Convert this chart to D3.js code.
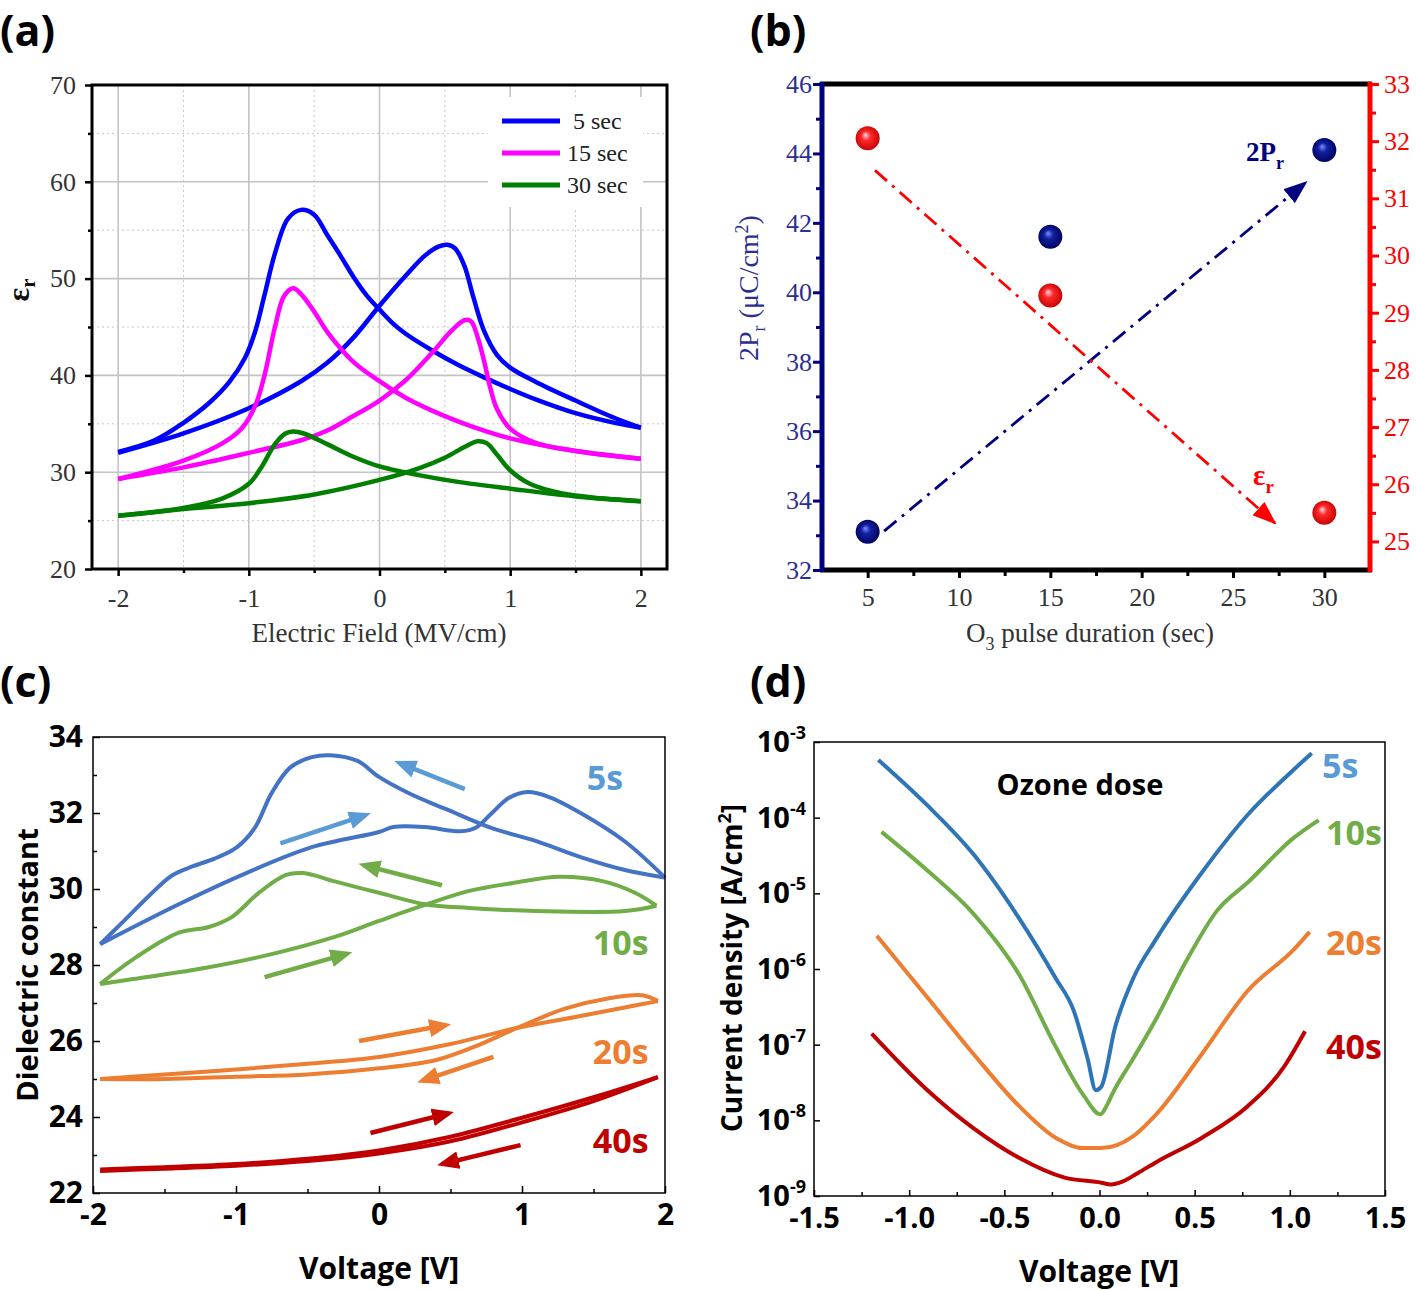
<!DOCTYPE html>
<html><head><meta charset="utf-8">
<script src="https://cdn.jsdelivr.net/npm/d3@7/dist/d3.min.js"></script>
<style>body{margin:0;background:#fff} svg{display:block}</style>
</head><body>
<svg id="fig" width="1416" height="1290" xmlns="http://www.w3.org/2000/svg"></svg>
<script>
// ================= DATA =================
// ---- Panel (a): eps_r vs Electric Field ----
const aXTicks = [-2, -1, 0, 1, 2];
const aXMinor = [-1.5, -0.5, 0.5, 1.5];
const aYTicks = [20, 30, 40, 50, 60, 70];
const aYMinor = [25, 35, 45, 55, 65];
const aLegend = ["5 sec", "15 sec", "30 sec"];
const a5s_b1 = [[-2,32.1],[-1.72,33.3],[-1.5,35.1],[-1.3,37.2],[-1.15,39.3],[-1.03,41.8],[-0.95,44.6],[-0.88,48.3],[-0.8,52.6],[-0.7,56.2],[-0.6,57.1],[-0.5,56.6],[-0.4,54.5],[-0.3,52.4],[-0.2,50.2],[-0.1,48.3],[0,46.8],[0.1,45.4],[0.2,44.3],[0.4,42.6],[0.6,41.1],[0.8,39.8],[1.0,38.6],[1.2,37.5],[1.5,36.1],[1.8,35.1],[2.0,34.6]];
const a5s_b2 = [[-2,32.0],[-1.5,34.0],[-1.0,36.6],[-0.6,39.4],[-0.4,41.3],[-0.2,43.9],[0,47.2],[0.2,50.3],[0.35,52.4],[0.45,53.3],[0.52,53.5],[0.58,53.1],[0.65,51.3],[0.72,48.0],[0.8,44.6],[0.9,42.1],[1.0,40.8],[1.2,39.3],[1.5,37.4],[1.8,35.6],[2.0,34.6]];
const a15s_b1 = [[-2,29.3],[-1.5,31.2],[-1.2,33.0],[-1.05,34.6],[-0.95,36.9],[-0.88,40.0],[-0.8,45.0],[-0.73,48.2],[-0.66,49.0],[-0.6,48.4],[-0.5,46.6],[-0.4,44.5],[-0.2,41.4],[0,39.4],[0.2,37.7],[0.5,35.8],[0.8,34.3],[1.0,33.5],[1.5,32.2],[2.0,31.4]];
const a15s_b2 = [[-2,29.3],[-1.5,30.5],[-1.0,32.0],[-0.6,33.3],[-0.4,34.3],[-0.2,35.8],[0,37.4],[0.2,39.5],[0.4,42.3],[0.55,44.6],[0.65,45.7],[0.7,45.6],[0.75,44.0],[0.8,41.5],[0.85,38.6],[0.9,36.5],[1.0,34.5],[1.2,33.0],[1.5,32.2],[2.0,31.4]];
const a30s_b1 = [[-2,25.5],[-1.5,26.3],[-1.2,27.3],[-1.0,28.8],[-0.9,30.6],[-0.8,32.9],[-0.72,34.0],[-0.66,34.2],[-0.58,34.0],[-0.4,32.9],[-0.2,31.6],[0,30.6],[0.3,29.7],[0.6,29.0],[1.0,28.3],[1.5,27.5],[2.0,27.0]];
const a30s_b2 = [[-2,25.5],[-1.5,26.2],[-1.0,26.8],[-0.5,27.7],[0,29.2],[0.3,30.4],[0.5,31.5],[0.65,32.6],[0.75,33.2],[0.82,33.0],[0.9,31.8],[1.0,30.2],[1.15,28.8],[1.4,27.8],[1.7,27.3],[2.0,27.0]];

// ---- Panel (b): 2Pr and eps_r vs O3 pulse ----
const bXTicks = [5, 10, 15, 20, 25, 30];
const bXMinor = [7.5, 12.5, 17.5, 22.5, 27.5];
const bLTicks = [32, 34, 36, 38, 40, 42, 44, 46];
const bLMinor = [33, 35, 37, 39, 41, 43, 45];
const bRTicks = [25, 26, 27, 28, 29, 30, 31, 32, 33];
const bRMinor = [25.5, 26.5, 27.5, 28.5, 29.5, 30.5, 31.5, 32.5];
const bPulse = [5, 15, 30];
const b2Pr = [33.1, 41.6, 44.1];
const bEps = [32.05, 29.3, 25.5];
const b2PrTrend = [[5.9, 33.12], [29.0, 43.17]];
const bEpsTrend = [[5.4, 31.49], [27.3, 25.32]];

// ---- Panel (c): dielectric constant loops ----
const cXTicks = [-2, -1, 0, 1, 2];
const cXMinor = [-1.5, -0.5, 0.5, 1.5];
const cYTicks = [22, 24, 26, 28, 30, 32, 34];
const cYMinor = [23, 25, 27, 29, 31, 33];
const cLabels = ["5s", "10s", "20s", "40s"];
const c5s_fwd = [[-1.95,28.55],[-1.4,29.6],[-0.94,30.4],[-0.47,31.1],[0,31.5],[0.1,31.63],[0.32,31.63],[0.57,31.52],[0.68,31.62],[0.79,32.0],[0.91,32.4],[1.04,32.55],[1.19,32.42],[1.41,32.0],[1.72,31.25],[2.0,30.3]];
const c5s_bwd = [[2.0,30.3],[1.72,30.5],[1.41,30.84],[1.1,31.26],[0.79,31.6],[0.47,32.1],[0.22,32.5],[0,32.95],[-0.15,33.37],[-0.34,33.52],[-0.47,33.47],[-0.62,33.2],[-0.75,32.53],[-0.87,31.6],[-1.0,31.08],[-1.15,30.8],[-1.3,30.6],[-1.45,30.35],[-1.6,29.85],[-1.8,29.1],[-1.95,28.55]];
const c10s_fwd = [[-1.95,27.5],[-1.72,27.63],[-1.25,27.9],[-0.78,28.26],[-0.31,28.74],[0,29.16],[0.32,29.58],[0.63,29.95],[0.94,30.16],[1.26,30.32],[1.57,30.2],[1.79,29.9],[1.94,29.56]];
const c10s_bwd = [[1.94,29.56],[1.72,29.42],[1.1,29.42],[0.63,29.5],[0.32,29.6],[0,29.9],[-0.31,30.2],[-0.53,30.42],[-0.65,30.37],[-0.84,29.9],[-1.03,29.26],[-1.19,29.0],[-1.4,28.85],[-1.7,28.2],[-1.95,27.5]];
const c20s_fwd = [[-1.95,25.0],[-1.5,25.12],[-1.0,25.25],[-0.5,25.4],[0,25.58],[0.5,25.92],[0.97,26.35],[1.4,26.65],[1.7,26.87],[1.95,27.05]];
const c20s_bwd = [[1.95,27.05],[1.85,27.2],[1.6,27.12],[1.3,26.85],[0.97,26.35],[0.7,25.9],[0.4,25.5],[0,25.28],[-0.5,25.12],[-1.0,25.06],[-1.5,25.0],[-1.95,25.0]];
const c40s_fwd = [[-1.95,22.62],[-1.5,22.68],[-1.0,22.76],[-0.5,22.9],[0,23.12],[0.5,23.48],[1.0,23.98],[1.5,24.52],[1.95,25.05]];
const c40s_bwd = [[1.95,25.05],[1.5,24.42],[1.0,23.86],[0.5,23.36],[0,23.04],[-0.5,22.84],[-1.0,22.72],[-1.5,22.64],[-1.95,22.58]];
// sweep-direction arrows [from, to]
const cArrows5 = [[[0.6,32.63],[0.14,33.32]], [[-0.69,31.2],[-0.09,31.95]]];
const cArrows10 = [[[0.44,30.1],[-0.11,30.63]], [[-0.8,27.68],[-0.22,28.3]]];
const cArrows20 = [[[-0.14,26.0],[0.47,26.42]], [[0.8,25.58],[0.3,24.95]]];
const cArrows40 = [[[-0.06,23.58],[0.49,24.1]], [[0.99,23.26],[0.44,22.76]]];

// ---- Panel (d): leakage current density ----
const dXTicks = [-1.5, -1.0, -0.5, 0.0, 0.5, 1.0, 1.5];
const dXMinor = [-1.25, -0.75, -0.25, 0.25, 0.75, 1.25];
const dYTicks = [1e-9, 1e-8, 1e-7, 1e-6, 1e-5, 1e-4, 1e-3];
const dYExp = ["-9", "-8", "-7", "-6", "-5", "-4", "-3"];
const d5s = [[-1.162,5.8e-4],[-0.904,1.45e-4],[-0.663,3.3e-5],[-0.423,4.7e-6],[-0.231,7.6e-7],[-0.135,2.8e-7],[-0.063,6.6e-8],[-0.019,2.5e-8],[0.01,2.8e-8],[0.082,1.7e-7],[0.178,7.6e-7],[0.298,2.5e-6],[0.539,1.9e-5],[0.78,1.1e-4],[1.02,4.3e-4],[1.115,7.1e-4]];
const d10s = [[-1.145,6.5e-5],[-0.904,2.0e-5],[-0.663,5.4e-6],[-0.423,8.5e-7],[-0.231,9.5e-8],[-0.087,2.2e-8],[0.005,1.2e-8],[0.04,1.6e-8],[0.07,2.3e-8],[0.178,6.6e-8],[0.298,2.2e-7],[0.45,1.2e-6],[0.62,6.0e-6],[0.78,1.4e-5],[1.02,5.4e-5],[1.152,9.3e-5]];
const d20s = [[-1.17,2.75e-6],[-0.904,4.2e-7],[-0.663,7.6e-8],[-0.423,1.55e-8],[-0.231,5.9e-9],[-0.087,4.3e-9],[0.01,4.3e-9],[0.178,6.2e-9],[0.298,1.2e-8],[0.539,7.6e-8],[0.78,5.2e-7],[1.02,1.8e-6],[1.104,3.1e-6]];
const d40s = [[-1.197,1.4e-7],[-0.904,2.5e-8],[-0.663,7.9e-9],[-0.423,3.2e-9],[-0.183,1.75e-9],[0.01,1.5e-9],[0.06,1.42e-9],[0.12,1.55e-9],[0.2,2.0e-9],[0.298,2.8e-9],[0.539,5.9e-9],[0.78,1.55e-8],[0.972,5.2e-8],[1.08,1.5e-7]];
const dLabels = ["5s", "10s", "20s", "40s"];

// ================= DRAW =================
const svg = d3.select("#fig");
const SERIF = "'Liberation Serif','Times New Roman',serif";
const SANS = "'Open Sans','Noto Sans',Arial,sans-serif";
const defs = svg.append("defs");

function styleAxis(g, color, width, font, size, weight, fill) {
  g.select(".domain").remove();
  g.selectAll(".tick line").attr("stroke", color).attr("stroke-width", width);
  g.selectAll(".tick text").attr("font-family", font).attr("font-size", size)
    .attr("font-weight", weight).attr("fill", fill);
}
function marker(id, color, w, h, refX) {
  defs.append("marker").attr("id", id).attr("viewBox", `0 0 ${w} ${h}`)
    .attr("markerUnits", "userSpaceOnUse").attr("markerWidth", w).attr("markerHeight", h)
    .attr("refX", refX).attr("refY", h / 2).attr("orient", "auto")
    .append("path").attr("d", `M0,0 L${w},${h/2} L0,${h} Z`).attr("fill", color);
}

// ---------- panel labels ----------
[["(a)", 0, 46], ["(b)", 750, 46], ["(c)", 0, 697], ["(d)", 750, 697]].forEach(([t, x, y]) => {
  svg.append("text").attr("x", x).attr("y", y).text(t)
    .attr("font-family", SANS).attr("font-weight", "bold").attr("font-size", 43).attr("fill", "#000");
});

// ---------- Panel (a) ----------
{
  const x = d3.scaleLinear().domain([-2.2, 2.2]).range([92, 667]);
  const y = d3.scaleLinear().domain([20, 70]).range([569, 85]);
  const g = svg.append("g");
  g.selectAll(".gxm").data(aXMinor).join("line")
    .attr("x1", d => x(d)).attr("x2", d => x(d)).attr("y1", y(70)).attr("y2", y(20))
    .attr("stroke", "#c8c8c8").attr("stroke-width", 1).attr("stroke-dasharray", "2,3");
  g.selectAll(".gym").data(aYMinor).join("line")
    .attr("y1", d => y(d)).attr("y2", d => y(d)).attr("x1", x(-2.2)).attr("x2", x(2.2))
    .attr("stroke", "#c8c8c8").attr("stroke-width", 1).attr("stroke-dasharray", "2,3");
  g.selectAll(".gx").data(aXTicks).join("line")
    .attr("x1", d => x(d)).attr("x2", d => x(d)).attr("y1", y(70)).attr("y2", y(20))
    .attr("stroke", "#c4c4c4").attr("stroke-width", 1.6);
  g.selectAll(".gy").data(aYTicks.slice(1, -1)).join("line")
    .attr("y1", d => y(d)).attr("y2", d => y(d)).attr("x1", x(-2.2)).attr("x2", x(2.2))
    .attr("stroke", "#c4c4c4").attr("stroke-width", 1.6);
  // legend background
  g.append("rect").attr("x", 488).attr("y", 97).attr("width", 155).attr("height", 110).attr("fill", "#fff");

  const line = d3.line().x(d => x(d[0])).y(d => y(d[1])).curve(d3.curveCatmullRom.alpha(0.5));
  const cols = ["#0000ff", "#ff00ff", "#007f00"];
  const sets = [[a5s_b1, a5s_b2], [a15s_b1, a15s_b2], [a30s_b1, a30s_b2]];
  sets.forEach((s, i) => s.forEach(b => g.append("path").attr("d", line(b)).attr("fill", "none")
    .attr("stroke", cols[i]).attr("stroke-width", 4.5).attr("stroke-linejoin", "round")));

  // legend
  const legX = [573, 567, 567];
  aLegend.forEach((t, i) => {
    const ly = 121 + i * 32;
    g.append("line").attr("x1", 502).attr("x2", 560).attr("y1", ly).attr("y2", ly)
      .attr("stroke", cols[i]).attr("stroke-width", 5);
    g.append("text").attr("x", legX[i]).attr("y", ly + 8).text(t)
      .attr("font-family", SERIF).attr("font-size", 24).attr("fill", "#222");
  });

  // frame
  g.append("rect").attr("x", 92).attr("y", 85).attr("width", 575).attr("height", 484)
    .attr("fill", "none").attr("stroke", "#000").attr("stroke-width", 3);
  // axes
  const gl = g.append("g").attr("transform", "translate(92,0)")
    .call(d3.axisLeft(y).tickValues(aYTicks).tickSize(7).tickPadding(9));
  styleAxis(gl, "#000", 2.5, SERIF, 26, "normal", "#333");
  const gl2 = g.append("g").attr("transform", "translate(92,0)")
    .call(d3.axisLeft(y).tickValues(aYMinor).tickSize(4).tickFormat(""));
  styleAxis(gl2, "#000", 2.5, SERIF, 26, "normal", "#333");
  const gb = g.append("g").attr("transform", "translate(0,569)")
    .call(d3.axisBottom(x).tickValues(aXTicks).tickSize(7).tickPadding(13).tickFormat(d3.format("d")));
  styleAxis(gb, "#000", 2.5, SERIF, 26, "normal", "#333");
  const gb2 = g.append("g").attr("transform", "translate(0,569)")
    .call(d3.axisBottom(x).tickValues(aXMinor).tickSize(4).tickFormat(""));
  styleAxis(gb2, "#000", 2.5, SERIF, 26, "normal", "#333");
  gb.selectAll(".tick text").text(d => d < 0 ? "-" + Math.abs(d) : d);

  g.append("text").attr("x", 379).attr("y", 642).attr("text-anchor", "middle")
    .text("Electric Field (MV/cm)").attr("font-family", SERIF).attr("font-size", 27).attr("fill", "#333");
  const yl = g.append("text").attr("transform", "translate(29,290) rotate(-90)").attr("text-anchor", "middle")
    .attr("font-family", SERIF).attr("font-size", 32).attr("font-weight", "bold").attr("fill", "#111");
  yl.append("tspan").text("ε");
  yl.append("tspan").attr("dy", 6).attr("font-size", 21).text("r");
}

// ---------- Panel (b) ----------
{
  const x = d3.scaleLinear().domain([2.5, 32.5]).range([822, 1370]);
  const yl = d3.scaleLinear().domain([32, 46]).range([570, 84]);
  const yr = d3.scaleLinear().domain([24.5, 33]).range([570, 84]);
  const g = svg.append("g");
  const NAVY = "#000080", NAVYT = "#2b2f8f", RED = "#ff0000";

  const gb = defs.append("radialGradient").attr("id", "sphB").attr("cx", "0.5").attr("cy", "0.5").attr("r", "0.55").attr("fx", "0.4").attr("fy", "0.35");
  gb.append("stop").attr("offset", "0%").attr("stop-color", "#7f8cff");
  gb.append("stop").attr("offset", "35%").attr("stop-color", "#1020a0");
  gb.append("stop").attr("offset", "100%").attr("stop-color", "#00005a");
  const gr = defs.append("radialGradient").attr("id", "sphR").attr("cx", "0.5").attr("cy", "0.5").attr("r", "0.55").attr("fx", "0.4").attr("fy", "0.35");
  gr.append("stop").attr("offset", "0%").attr("stop-color", "#ffd6ea");
  gr.append("stop").attr("offset", "35%").attr("stop-color", "#ff2a2a");
  gr.append("stop").attr("offset", "100%").attr("stop-color", "#c00000");

  marker("arrB", NAVY, 24, 18, 22);
  marker("arrR", RED, 24, 18, 22);

  g.append("line").attr("x1", x(b2PrTrend[0][0])).attr("y1", yl(b2PrTrend[0][1]))
    .attr("x2", x(b2PrTrend[1][0])).attr("y2", yl(b2PrTrend[1][1]))
    .attr("stroke", NAVY).attr("stroke-width", 2.8).attr("stroke-dasharray", "16,7,3,7").attr("marker-end", "url(#arrB)");
  g.append("line").attr("x1", x(bEpsTrend[0][0])).attr("y1", yr(bEpsTrend[0][1]))
    .attr("x2", x(bEpsTrend[1][0])).attr("y2", yr(bEpsTrend[1][1]))
    .attr("stroke", RED).attr("stroke-width", 2.8).attr("stroke-dasharray", "16,7,3,7").attr("marker-end", "url(#arrR)");

  g.selectAll(".pb").data(bPulse).join("circle").attr("cx", d => x(d)).attr("cy", (d, i) => yl(b2Pr[i]))
    .attr("r", 12).attr("fill", "url(#sphB)");
  g.selectAll(".pr").data(bPulse).join("circle").attr("cx", d => x(d)).attr("cy", (d, i) => yr(bEps[i]))
    .attr("r", 12).attr("fill", "url(#sphR)");

  g.append("line").attr("x1", 820).attr("x2", 1372).attr("y1", 84).attr("y2", 84).attr("stroke", "#000").attr("stroke-width", 5);
  g.append("line").attr("x1", 820).attr("x2", 1372).attr("y1", 570).attr("y2", 570).attr("stroke", "#000").attr("stroke-width", 5);
  g.append("line").attr("x1", 822).attr("x2", 822).attr("y1", 82).attr("y2", 572).attr("stroke", NAVY).attr("stroke-width", 5);
  g.append("line").attr("x1", 1370).attr("x2", 1370).attr("y1", 82).attr("y2", 572).attr("stroke", RED).attr("stroke-width", 5);

  const al = g.append("g").attr("transform", "translate(820,0)")
    .call(d3.axisLeft(yl).tickValues(bLTicks).tickSize(7).tickPadding(1));
  styleAxis(al, NAVY, 3, SERIF, 26, "normal", NAVYT);
  const al2 = g.append("g").attr("transform", "translate(820,0)")
    .call(d3.axisLeft(yl).tickValues(bLMinor).tickSize(4).tickFormat(""));
  styleAxis(al2, NAVY, 3, SERIF, 26, "normal", NAVYT);
  const ar = g.append("g").attr("transform", "translate(1372,0)")
    .call(d3.axisRight(yr).tickValues(bRTicks).tickSize(7).tickPadding(5));
  styleAxis(ar, RED, 3, SERIF, 26, "normal", RED);
  const ar2 = g.append("g").attr("transform", "translate(1372,0)")
    .call(d3.axisRight(yr).tickValues(bRMinor).tickSize(4).tickFormat(""));
  styleAxis(ar2, RED, 3, SERIF, 26, "normal", RED);
  const ab = g.append("g").attr("transform", "translate(0,572)")
    .call(d3.axisBottom(x).tickValues(bXTicks).tickSize(6).tickPadding(10));
  styleAxis(ab, "#000", 3, SERIF, 26, "normal", "#333");
  const ab2 = g.append("g").attr("transform", "translate(0,572)")
    .call(d3.axisBottom(x).tickValues(bXMinor).tickSize(4).tickFormat(""));
  styleAxis(ab2, "#000", 3, SERIF, 26, "normal", "#333");

  const xt = g.append("text").attr("x", 1090).attr("y", 642).attr("text-anchor", "middle")
    .attr("font-family", SERIF).attr("font-size", 27).attr("fill", "#333");
  xt.append("tspan").text("O");
  xt.append("tspan").attr("dy", 8).attr("font-size", 18).text("3");
  xt.append("tspan").attr("dy", -8).text(" pulse duration (sec)");
  const ytl = g.append("text").attr("transform", "translate(758,288) rotate(-90)").attr("text-anchor", "middle")
    .attr("font-family", SERIF).attr("font-size", 28).attr("fill", NAVYT);
  ytl.append("tspan").text("2P");
  ytl.append("tspan").attr("dy", 7).attr("font-size", 18).text("r");
  ytl.append("tspan").attr("dy", -7).text(" (μC/cm");
  ytl.append("tspan").attr("dy", -10).attr("font-size", 18).text("2");
  ytl.append("tspan").attr("dy", 10).text(")");

  const t1 = g.append("text").attr("x", 1246).attr("y", 161).attr("font-family", SERIF)
    .attr("font-size", 27).attr("font-weight", "bold").attr("fill", NAVY);
  t1.append("tspan").text("2P");
  t1.append("tspan").attr("dy", 8).attr("font-size", 18).text("r");
  const t2 = g.append("text").attr("x", 1253).attr("y", 485).attr("font-family", SERIF)
    .attr("font-size", 29).attr("font-weight", "bold").attr("fill", RED);
  t2.append("tspan").text("ε");
  t2.append("tspan").attr("dy", 8).attr("font-size", 19).text("r");
}

// ---------- Panel (c) ----------
{
  const x = d3.scaleLinear().domain([-2, 2]).range([93, 665]);
  const y = d3.scaleLinear().domain([22, 34]).range([1193, 737]);
  const g = svg.append("g");
  const line = d3.line().x(d => x(d[0])).y(d => y(d[1])).curve(d3.curveCatmullRom.alpha(0.5));
  const cols = ["#4472c4", "#70ad47", "#ed7d31", "#c00000"];
  const arrCols = ["#5b9bd5", "#70ad47", "#ed7d31", "#c00000"];
  const loops = [[c5s_fwd, c5s_bwd], [c10s_fwd, c10s_bwd], [c20s_fwd, c20s_bwd], [c40s_fwd, c40s_bwd]];
  loops.forEach((s, i) => s.forEach(b => g.append("path").attr("d", line(b)).attr("fill", "none")
    .attr("stroke", cols[i]).attr("stroke-width", 4).attr("stroke-linejoin", "round")));

  const arrows = [cArrows5, cArrows10, cArrows20, cArrows40];
  arrows.forEach((arr, i) => {
    marker("arrC" + i, arrCols[i], 22, 18, 17);
    arr.forEach(([a, b]) => g.append("line").attr("x1", x(a[0])).attr("y1", y(a[1]))
      .attr("x2", x(b[0])).attr("y2", y(b[1])).attr("stroke", arrCols[i]).attr("stroke-width", 4.5)
      .attr("marker-end", `url(#arrC${i})`));
  });

  const labPos = [[1.58, 32.95], [1.69, 28.6], [1.69, 25.75], [1.69, 23.4]];
  const labCols = ["#5b9bd5", "#70ad47", "#ed7d31", "#c00000"];
  cLabels.forEach((t, i) => g.append("text").attr("x", x(labPos[i][0])).attr("y", y(labPos[i][1]))
    .attr("text-anchor", "middle").attr("dominant-baseline", "central").text(t)
    .attr("font-family", SANS).attr("font-weight", "bold").attr("font-size", 34).attr("fill", labCols[i]));

  g.append("rect").attr("x", 93).attr("y", 737).attr("width", 572).attr("height", 456)
    .attr("fill", "none").attr("stroke", "#000").attr("stroke-width", 1.5);
  const al = g.append("g").attr("transform", "translate(93,0)")
    .call(d3.axisLeft(y).tickValues(cYTicks).tickSize(-7).tickPadding(10));
  styleAxis(al, "#000", 1.5, SANS, 30, "bold", "#000");
  const al2 = g.append("g").attr("transform", "translate(93,0)")
    .call(d3.axisLeft(y).tickValues(cYMinor).tickSize(-4).tickFormat(""));
  styleAxis(al2, "#000", 1.5, SANS, 30, "bold", "#000");
  const ab = g.append("g").attr("transform", "translate(0,1193)")
    .call(d3.axisBottom(x).tickValues(cXTicks).tickSize(-7).tickPadding(11));
  styleAxis(ab, "#000", 1.5, SANS, 30, "bold", "#000");
  ab.selectAll(".tick text").text(d => d < 0 ? "-" + Math.abs(d) : d);
  const ab2 = g.append("g").attr("transform", "translate(0,1193)")
    .call(d3.axisBottom(x).tickValues(cXMinor).tickSize(-4).tickFormat(""));
  styleAxis(ab2, "#000", 1.5, SANS, 30, "bold", "#000");

  g.append("text").attr("x", 379).attr("y", 1279).attr("text-anchor", "middle").text("Voltage [V]")
    .attr("font-family", SANS).attr("font-weight", "bold").attr("font-size", 30).attr("fill", "#000");
  g.append("text").attr("transform", "translate(38,965) rotate(-90)").attr("text-anchor", "middle")
    .text("Dielectric constant").attr("font-family", SANS).attr("font-weight", "bold").attr("font-size", 29).attr("fill", "#000");
}

// ---------- Panel (d) ----------
{
  const x = d3.scaleLinear().domain([-1.5, 1.5]).range([814, 1385]);
  const y = d3.scaleLog().domain([1e-9, 1e-3]).range([1196, 742]);
  const g = svg.append("g");
  const line = d3.line().x(d => x(d[0])).y(d => y(d[1])).curve(d3.curveMonotoneX);
  const cols = ["#2e75b6", "#70ad47", "#ed7d31", "#c00000"];
  [d5s, d10s, d20s, d40s].forEach((s, i) => g.append("path").attr("d", line(s)).attr("fill", "none")
    .attr("stroke", cols[i]).attr("stroke-width", 4).attr("stroke-linejoin", "round"));

  const labCols = ["#5b9bd5", "#70ad47", "#ed7d31", "#c00000"];
  const labY = [765, 832, 942, 1046];
  dLabels.forEach((t, i) => g.append("text").attr("x", i === 0 ? 1322 : 1326).attr("y", labY[i])
    .attr("dominant-baseline", "central").text(t)
    .attr("font-family", SANS).attr("font-weight", "bold").attr("font-size", 34).attr("fill", labCols[i]));
  g.append("text").attr("x", 1080).attr("y", 783).attr("text-anchor", "middle").attr("dominant-baseline", "central")
    .text("Ozone dose").attr("font-family", SANS).attr("font-weight", "bold").attr("font-size", 29).attr("fill", "#000");

  g.append("rect").attr("x", 814).attr("y", 742).attr("width", 571).attr("height", 454)
    .attr("fill", "none").attr("stroke", "#000").attr("stroke-width", 1.5);
  const al = g.append("g").attr("transform", "translate(814,0)")
    .call(d3.axisLeft(y).tickValues(dYTicks).tickSize(-6).tickFormat(""));
  styleAxis(al, "#000", 1.5, SANS, 30, "bold", "#000");
  dYTicks.forEach((v, i) => {
    const t = g.append("text").attr("x", 806).attr("y", y(v) + 10).attr("text-anchor", "end")
      .attr("font-family", SANS).attr("font-weight", "bold").attr("font-size", 29).attr("fill", "#000");
    t.append("tspan").text("10");
    t.append("tspan").attr("dy", -13).attr("font-size", 18).text(dYExp[i]);
  });
  const ab = g.append("g").attr("transform", "translate(0,1196)")
    .call(d3.axisBottom(x).tickValues(dXTicks).tickSize(-6).tickPadding(11).tickFormat(d3.format(".1f")));
  styleAxis(ab, "#000", 1.5, SANS, 29, "bold", "#000");
  ab.selectAll(".tick text").text(d => (d < 0 ? "-" : "") + Math.abs(d).toFixed(1));
  const ab2 = g.append("g").attr("transform", "translate(0,1196)")
    .call(d3.axisBottom(x).tickValues(dXMinor).tickSize(-4).tickFormat(""));
  styleAxis(ab2, "#000", 1.5, SANS, 29, "bold", "#000");

  g.append("text").attr("x", 1099).attr("y", 1282).attr("text-anchor", "middle").text("Voltage [V]")
    .attr("font-family", SANS).attr("font-weight", "bold").attr("font-size", 30).attr("fill", "#000");
  const yt = g.append("text").attr("transform", "translate(742,968) rotate(-90)").attr("text-anchor", "middle")
    .attr("font-family", SANS).attr("font-weight", "bold").attr("font-size", 28).attr("fill", "#000");
  yt.append("tspan").text("Current density [A/cm");
  yt.append("tspan").attr("dy", -11).attr("font-size", 18).text("2");
  yt.append("tspan").attr("dy", 11).text("]");
}
</script>
</body></html>
